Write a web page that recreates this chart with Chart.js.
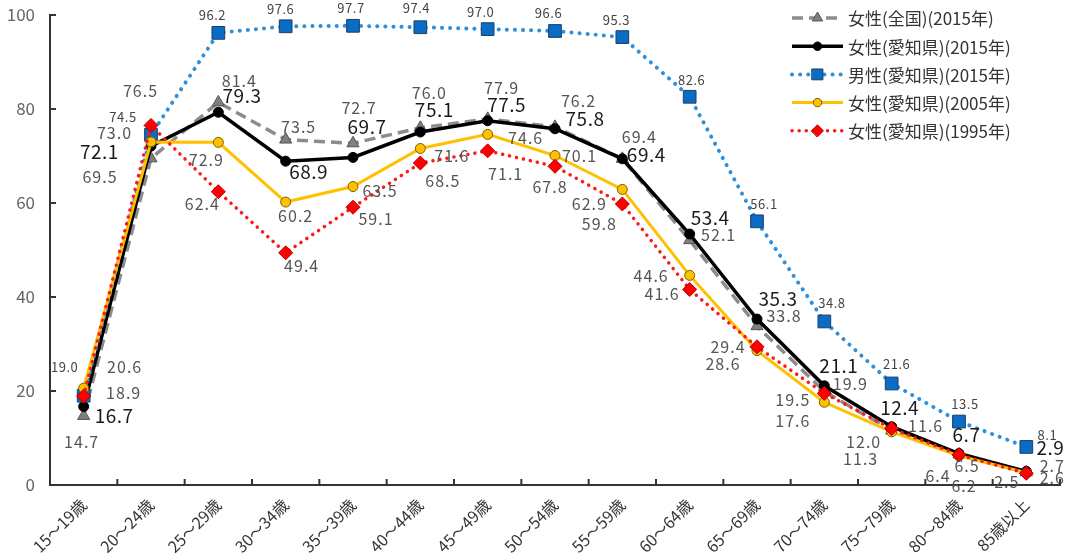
<!DOCTYPE html>
<html>
<head>
<meta charset="utf-8">
<script src="https://cdn.jsdelivr.net/npm/chart.js@4/dist/chart.umd.min.js"></script>
<style>
  html, body { margin: 0; padding: 0; background: #fff; }
  canvas { display: block; }
</style>
</head>
<body>
<canvas id="c" width="1070" height="560"></canvas>
<script>
// Age groups on the x axis
const ageGroups = ['15～19歳','20～24歳','25～29歳','30～34歳','35～39歳','40～44歳','45～49歳',
  '50～54歳','55～59歳','60～64歳','65～69歳','70～74歳','75～79歳','80～84歳','85歳以上'];

// Labour force participation rate (%)
const womenNational2015 = [14.7, 69.5, 81.4, 73.5, 72.7, 76.0, 77.9, 76.2, 69.4, 52.1, 33.8, 19.9, 11.6, 6.5, 2.7];
const womenAichi2015    = [16.7, 72.1, 79.3, 68.9, 69.7, 75.1, 77.5, 75.8, 69.4, 53.4, 35.3, 21.1, 12.4, 6.7, 2.9];
const menAichi2015      = [19.0, 74.5, 96.2, 97.6, 97.7, 97.4, 97.0, 96.6, 95.3, 82.6, 56.1, 34.8, 21.6, 13.5, 8.1];
const womenAichi2005    = [20.6, 73.0, 72.9, 60.2, 63.5, 71.6, 74.6, 70.1, 62.9, 44.6, 28.6, 17.6, 11.3, 6.2, 2.6];
const womenAichi1995    = [18.9, 76.5, 62.4, 49.4, 59.1, 68.5, 71.1, 67.8, 59.8, 41.6, 29.4, 19.5, 12.0, 6.4, 2.5];

// Y axis ticks
const yTicks = [0, 20, 40, 60, 80, 100];

const FONT = '"Noto Sans CJK JP", "Noto Sans", sans-serif';

// Value label placement (offset of label centre from the point)
const offNational = [[-2,26],[-51,19],[21,-21],[13,-12.5],[6,-35],[9,-35],[14,-31],[23.5,-26],[17,-22],[29,-5],[27,-10],[26,-7.5],[34,-4.5],[8,11.5],[26,-6]];
const offAichi15  = [[30.5,9.5],[-51.6,6],[23.7,-17],[23,11],[14,-31],[14,-22],[19,-16],[30,-10],[24,-4],[20.5,-16],[21,-20],[14.5,-20],[8,-19],[7.5,-18.5],[24,-24]];
const offMen      = [[-19,-29],[-28,-18],[-6,-18],[-5,-17],[-2,-18],[-4,-19],[-7,-17],[-6.5,-18],[-6,-17],[2,-17],[7,-17],[7.5,-18],[5,-19.5],[6,-17.5],[21,-12]];
const offAichi05  = [[41,-21],[-36.5,-9],[-12,17.5],[10,14],[27,4.5],[31.5,7.5],[38,4],[24.5,0.5],[-33,14.5],[-38.5,0.5],[-34,13.5],[-31.5,19],[-31,27],[5,30],[26,5]];
const offAichi95  = [[40,-3],[-10.5,-34.5],[-16,12],[16,13],[23,12],[22.5,18],[18,23],[-5,21],[-23,20],[-27.5,4.5],[-29,0],[-31.5,6.5],[-28,13],[-21,21],[-19.5,9]];

const datasets = [
  {
    label: '女性(全国)(2015年)', data: womenNational2015, order: 5,
    borderColor: '#8c8c8c', borderWidth: 3.5, borderDash: [11, 6],
    pointStyle: 'triangle', pointRadius: 7, pointBackgroundColor: '#7f7f7f', pointBorderColor: '#555', pointBorderWidth: 1,
    valueFont: '16px ' + FONT, valueColor: '#555', valueSpacing: '1px', offsets: offNational
  },
  {
    label: '女性(愛知県)(2015年)', data: womenAichi2015, order: 4,
    borderColor: '#000', borderWidth: 3.5,
    pointStyle: 'circle', pointRadius: 5, pointBackgroundColor: '#000', pointBorderColor: '#000', pointBorderWidth: 1,
    valueFont: '19px ' + FONT, valueColor: '#1a1a1a', valueSpacing: '0.5px', offsets: offAichi15
  },
  {
    label: '男性(愛知県)(2015年)', data: menAichi2015, order: 3,
    borderColor: '#2f8fd8', borderWidth: 4, borderDash: [0.1, 8], borderCapStyle: 'round',
    pointStyle: 'rect', pointRadius: 9, pointBackgroundColor: '#0a6cc4', pointBorderColor: '#1d3f66', pointBorderWidth: 1,
    valueFont: '13px ' + FONT, valueColor: '#444', valueSpacing: '0.5px', offsets: offMen
  },
  {
    label: '女性(愛知県)(2005年)', data: womenAichi2005, order: 2,
    borderColor: '#ffc000', borderWidth: 3,
    pointStyle: 'circle', pointRadius: 5, pointBackgroundColor: '#ffc000', pointBorderColor: '#7a6000', pointBorderWidth: 1,
    valueFont: '16px ' + FONT, valueColor: '#555', valueSpacing: '1px', offsets: offAichi05
  },
  {
    label: '女性(愛知県)(1995年)', data: womenAichi1995, order: 1,
    borderColor: '#ff1a1a', borderWidth: 3.5, borderDash: [0.1, 7], borderCapStyle: 'round',
    pointStyle: 'rectRot', pointRadius: 7, pointBackgroundColor: '#ff0000', pointBorderColor: '#b00000', pointBorderWidth: 1,
    valueFont: '16px ' + FONT, valueColor: '#555', valueSpacing: '1px', offsets: offAichi95
  }
].map(d => Object.assign({ fill: false, tension: 0, pointHoverRadius: d.pointRadius }, d));

// Inward tick marks on both axes
const innerTicks = {
  id: 'innerTicks',
  afterDraw(chart) {
    const { ctx } = chart;
    const xs = chart.scales.x, ys = chart.scales.y;
    ctx.save();
    ctx.strokeStyle = '#333';
    ctx.lineWidth = 2;
    ctx.beginPath();
    yTicks.forEach(v => {
      const y = ys.getPixelForValue(v);
      ctx.moveTo(xs.left, y); ctx.lineTo(xs.left + 6, y);
    });
    const step = xs.getPixelForTick(1) - xs.getPixelForTick(0);
    for (let i = 0; i <= ageGroups.length; i++) {
      const x = xs.getPixelForTick(0) - step / 2 + i * step;
      ctx.moveTo(x, ys.bottom); ctx.lineTo(x, ys.bottom - 6);
    }
    ctx.stroke();
    ctx.restore();
  }
};

// Value labels next to each point
const valueLabels = {
  id: 'valueLabels',
  afterDatasetsDraw(chart) {
    const { ctx } = chart;
    ctx.save();
    ctx.textAlign = 'center';
    ctx.textBaseline = 'middle';
    chart.data.datasets.forEach((ds, di) => {
      const meta = chart.getDatasetMeta(di);
      ctx.font = ds.valueFont;
      ctx.fillStyle = ds.valueColor;
      ctx.letterSpacing = ds.valueSpacing;
      meta.data.forEach((pt, i) => {
        const [dx, dy] = ds.offsets[i];
        ctx.fillText(ds.data[i].toFixed(1), pt.x + dx, pt.y + dy);
      });
    });
    ctx.restore();
  }
};

// Legend with line + marker samples
const lineLegend = {
  id: 'lineLegend',
  afterDraw(chart) {
    const { ctx } = chart;
    const x0 = 792, x1 = 843, top = 18, gap = 28.2;
    ctx.save();
    chart.data.datasets.forEach((ds, i) => {
      const y = top + i * gap;
      ctx.strokeStyle = ds.borderColor;
      ctx.lineWidth = ds.borderWidth;
      ctx.lineCap = ds.borderCapStyle || 'butt';
      ctx.setLineDash(ds.borderDash || []);
      ctx.beginPath(); ctx.moveTo(x0, y); ctx.lineTo(x1, y); ctx.stroke();
      ctx.setLineDash([]);
      ctx.fillStyle = ds.pointBackgroundColor;
      ctx.strokeStyle = ds.pointBorderColor;
      ctx.lineWidth = 1;
      Chart.helpers.drawPoint(ctx, { pointStyle: ds.pointStyle, rotation: 0, radius: ds.pointRadius * 0.85, borderWidth: 1 }, (x0 + x1) / 2, y);
      ctx.fillStyle = '#333';
      ctx.font = '17px ' + FONT;
      ctx.textAlign = 'left';
      ctx.textBaseline = 'middle';
      ctx.fillText(ds.label, 848, y + 1);
    });
    ctx.restore();
  }
};

new Chart(document.getElementById('c'), {
  type: 'line',
  data: { labels: ageGroups, datasets },
  options: {
    responsive: false,
    animation: false,
    layout: { padding: { top: 15, right: 0, left: 0, bottom: 0 } },
    plugins: { legend: { display: false }, tooltip: { enabled: false } },
    scales: {
      x: {
        offset: true,
        grid: { display: false, drawTicks: false },
        border: { display: true, color: '#333', width: 2 },
        ticks: {
          minRotation: 45, maxRotation: 45, autoSkip: false, padding: 10,
          color: '#333', font: { family: FONT, size: 16 }
        },
        afterFit(s) { s.height = 75; s.paddingLeft = 0; s.paddingRight = 0; }
      },
      y: {
        min: 0, max: 100,
        grid: { display: false, drawTicks: false },
        border: { display: true, color: '#333', width: 2 },
        ticks: {
          stepSize: 20, padding: 15,
          color: '#666', font: { family: FONT, size: 17 }
        },
        afterBuildTicks(s) { s.ticks = yTicks.map(v => ({ value: v })); },
        afterFit(s) { s.width = 50; s.paddingTop = 0; s.paddingBottom = 0; }
      }
    }
  },
  plugins: [innerTicks, valueLabels, lineLegend]
});
</script>
</body>
</html>
